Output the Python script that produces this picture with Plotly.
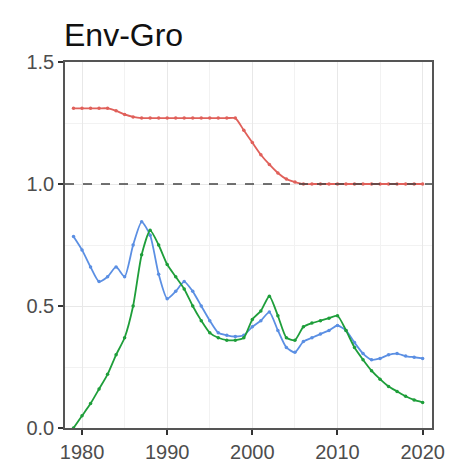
import plotly.graph_objects as go

# Annual series, 1979-2020
years = list(range(1979, 2021))

red_vals = [1.31, 1.31, 1.31, 1.31, 1.31, 1.30, 1.285, 1.275, 1.27, 1.27,
            1.27, 1.27, 1.27, 1.27, 1.27, 1.27, 1.27, 1.27, 1.27, 1.27,
            1.22, 1.17, 1.12, 1.08, 1.045, 1.02, 1.008, 1.0, 1.0, 1.0,
            1.0, 1.0, 1.0, 1.0, 1.0, 1.0, 1.0, 1.0, 1.0, 1.0, 1.0, 1.0]

blue_vals = [0.785, 0.73, 0.66, 0.60, 0.62, 0.66, 0.62, 0.75, 0.845, 0.79,
             0.63, 0.53, 0.56, 0.60, 0.56, 0.50, 0.44, 0.39, 0.38, 0.375,
             0.38, 0.415, 0.44, 0.475, 0.40, 0.33, 0.31, 0.355, 0.37, 0.385,
             0.40, 0.42, 0.40, 0.35, 0.305, 0.28, 0.285, 0.30, 0.305, 0.295,
             0.29, 0.285]

green_vals = [0.0, 0.05, 0.10, 0.16, 0.22, 0.30, 0.37, 0.50, 0.71, 0.81,
              0.75, 0.67, 0.62, 0.57, 0.50, 0.44, 0.39, 0.37, 0.36, 0.36,
              0.37, 0.445, 0.48, 0.54, 0.46, 0.37, 0.36, 0.415, 0.43, 0.44,
              0.45, 0.46, 0.40, 0.33, 0.28, 0.235, 0.20, 0.17, 0.15, 0.13,
              0.115, 0.105]

ref_level = 1.0
x_ticks = [1980, 1990, 2000, 2010, 2020]
y_ticks = [0.0, 0.5, 1.0, 1.5]
y_tick_text = ["0.0", "0.5", "1.0", "1.5"]

series = [
    (red_vals, "#E0605A"),
    (blue_vals, "#5B8FE3"),
    (green_vals, "#1E9E3A"),
]

fig = go.Figure()
for vals, color in series:
    fig.add_trace(go.Scatter(
        x=years, y=vals, mode="lines+markers",
        line=dict(color=color, width=1.8, shape="spline", smoothing=0.6),
        marker=dict(color=color, size=3.5),
        showlegend=False,
    ))

fig.add_shape(type="line", xref="paper", yref="y", x0=0, x1=1,
              y0=ref_level, y1=ref_level,
              line=dict(color="#444444", width=1.5, dash="dash"), layer="above")

font_family = "Liberation Sans, Arial, sans-serif"
fig.update_layout(
    width=457, height=475,
    margin=dict(l=65, r=24, t=62, b=45),
    paper_bgcolor="white", plot_bgcolor="white",
    title=dict(text="Env-Gro", x=64 / 457, xanchor="left", y=1 - 35 / 475,
               yanchor="middle", font=dict(size=32, color="#111111", family=font_family)),
    font=dict(family=font_family),
)
fig.update_xaxes(
    range=[1978.0, 2021.1], tickvals=x_ticks, ticks="outside", ticklen=5,
    tickcolor="#333333", tickwidth=1.5,
    tickfont=dict(size=20, color="#4D4D4D"),
    showgrid=True, gridcolor="#E8E8E8", gridwidth=1,
    minor=dict(dtick=5, tick0=1975, showgrid=True, gridcolor="#F2F2F2", gridwidth=1),
    showline=True, linecolor="#555555", linewidth=1.5, mirror=True, zeroline=False,
)
fig.update_yaxes(
    range=[0, 1.5], tickvals=y_ticks, ticktext=y_tick_text, ticks="outside",
    ticklen=5, tickcolor="#333333", tickwidth=1.5,
    tickfont=dict(size=20, color="#4D4D4D"),
    showgrid=True, gridcolor="#E8E8E8", gridwidth=1,
    minor=dict(dtick=0.25, tick0=0, showgrid=True, gridcolor="#F2F2F2", gridwidth=1),
    showline=True, linecolor="#555555", linewidth=1.5, mirror=True, zeroline=False,
)

fig.write_html("out.html")
